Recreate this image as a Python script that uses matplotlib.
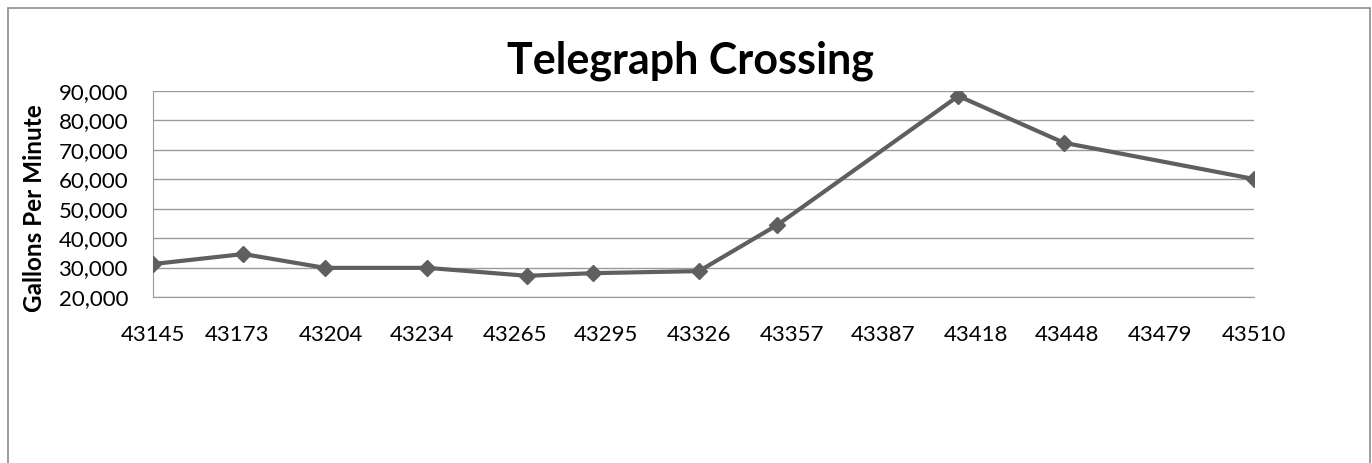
import matplotlib.pyplot as plt
from matplotlib.patches import Rectangle
from matplotlib.ticker import FuncFormatter

# sample dates (Excel serial numbers) and flow readings
dates = [43145, 43175, 43202, 43236, 43269, 43291, 43326, 43352, 43412, 43447, 43510]
gpm = [31200, 34600, 29900, 29900, 27200, 28100, 28800, 44500, 88300, 72400, 60100]

tick_dates = [43145, 43173, 43204, 43234, 43265, 43295, 43326, 43357,
              43387, 43418, 43448, 43479, 43510]
y_ticks = [20000, 30000, 40000, 50000, 60000, 70000, 80000, 90000]

plt.rcParams['font.family'] = ['Lato', 'DejaVu Sans']

fig = plt.figure(figsize=(13.72, 4.63), dpi=100)
ax = fig.add_axes([153 / 1372, 1 - 297 / 463, (1254 - 153) / 1372, (297 - 91) / 463])

ax.plot(dates, gpm, color='#5f5f5f', lw=3, marker='D', ms=8, zorder=3)

ax.set_xlim(43145, 43510)
ax.set_ylim(20000, 90000)
ax.set_xticks(tick_dates)
ax.set_xticklabels([str(t) for t in tick_dates])
ax.set_yticks(y_ticks)
ax.yaxis.set_major_formatter(FuncFormatter(lambda v, p: f'{int(v):,}'))
ax.tick_params(axis='both', length=0, labelsize=16, colors='black')
ax.tick_params(axis='y', pad=18)
ax.tick_params(axis='x', pad=20)
ax.grid(axis='y', color='#9a9a9a', lw=1)
ax.set_axisbelow(True)

for side in ['top', 'right']:
    ax.spines[side].set_visible(False)
ax.spines['left'].set_color('#9a9a9a')
ax.spines['bottom'].set_color('#9a9a9a')

ax.set_ylabel('Gallons Per Minute', fontsize=17.5, fontweight='bold')
ax.yaxis.set_label_coords(-0.097, 0.43)

fig.text(690 / 1372, 1 - 61 / 463, 'Telegraph Crossing', fontsize=31,
         fontweight='bold', ha='center', va='center')

fig.patches.append(Rectangle((8 / 1372, -0.05), (1370 - 8) / 1372, 1.05 - 8 / 463,
                             transform=fig.transFigure, fill=False,
                             edgecolor='#8c8c8c', lw=1.2))

fig.savefig('out.png', dpi=100)
